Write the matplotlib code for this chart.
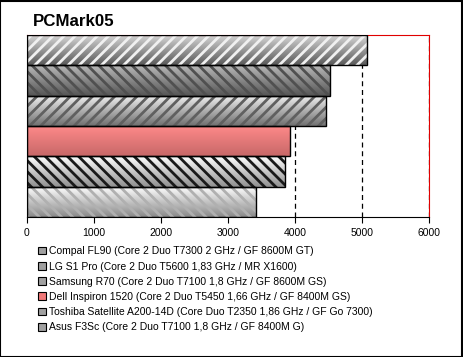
import numpy as np
import matplotlib.pyplot as plt
from matplotlib.patches import Rectangle
from matplotlib.colors import LinearSegmentedColormap

plt.rcParams['font.family'] = ['Liberation Sans', 'DejaVu Sans']
plt.rcParams['hatch.linewidth'] = 2.0

labels = [
    'Compal FL90 (Core 2 Duo T7300 2 GHz / GF 8600M GT)',
    'LG S1 Pro (Core 2 Duo T5600 1,83 GHz / MR X1600)',
    'Samsung R70 (Core 2 Duo T7100 1,8 GHz / GF 8600M GS)',
    'Dell Inspiron 1520 (Core 2 Duo T5450 1,66 GHz / GF 8400M GS)',
    'Toshiba Satellite A200-14D (Core Duo T2350 1,86 GHz / GF Go 7300)',
    'Asus F3Sc (Core 2 Duo T7100 1,8 GHz / GF 8400M G)',
]
scores = [5075, 4520, 4460, 3925, 3850, 3415]

# top colour, bottom colour, hatch, hatch colour
styles = [
    ('#d8d8d8', '#5a5a5a', '///', '#f0f0f0'),
    ('#b8b8b8', '#555555', '\\\\\\', '#505050'),
    ('#f0f0f0', '#707070', '///', '#606060'),
    ('#ff8a8a', '#c86868', None, None),
    ('#ffffff', '#909090', '\\\\\\', '#1a1a1a'),
    ('#ffffff', '#8a8a8a', '\\\\\\', '#b0b0b0'),
]

fig = plt.figure(figsize=(4.63, 3.57), dpi=100)
ax = fig.add_axes([27 / 463, 1 - 217 / 357, 402 / 463, 182 / 357])

for i, (v, st) in enumerate(zip(scores, styles)):
    top, bot, hatch, hc = st
    cmap = LinearSegmentedColormap.from_list('g', [top, bot])
    grad = np.linspace(0, 1, 64).reshape(-1, 1)
    rect = Rectangle((0, i - 0.5), v, 1.0, transform=ax.transData,
                     facecolor='none', edgecolor='none')
    ax.add_patch(rect)
    im = ax.imshow(grad, cmap=cmap, aspect='auto',
                   extent=(0, v, i + 0.5, i - 0.5), origin='upper',
                   zorder=2, interpolation='bilinear')
    im.set_clip_path(rect)
    if hatch:
        ax.barh(i, v, height=1.0, left=0, facecolor='none', edgecolor=hc,
                hatch=hatch, linewidth=0, zorder=3)
    ax.barh(i, v, height=1.0, left=0, facecolor='none', edgecolor='black',
            linewidth=1.0, zorder=4)

ax.set_xlim(0, 6000)
ax.set_ylim(len(scores) - 0.5, -0.5)
ax.set_xticks(range(0, 6001, 1000))
ax.set_yticks([])
ax.tick_params(axis='x', labelsize=7.5, length=4, direction='out', pad=4)
ax.xaxis.grid(True, linestyle=(0, (4, 3)), color='black', linewidth=0.9)
ax.set_axisbelow(True)
for s in ('top', 'right'):
    ax.spines[s].set_color('#e00000')
for s in ('left', 'bottom'):
    ax.spines[s].set_color('black')

fig.text(33 / 463, 1 - 22 / 357, 'PCMark05', fontsize=12.2, fontweight='bold',
         va='center', ha='left')

handles = []
for st in styles:
    top, bot, hatch, hc = st
    fc = bot if hatch is None else '#a0a0a0'
    handles.append(Rectangle((0, 0), 1, 1, facecolor=fc, edgecolor='black',
                             linewidth=0.8))
handles[3].set_facecolor('#f07878')
leg = fig.legend(handles, labels, loc='upper left',
                 bbox_to_anchor=(31 / 463, 1 - 239 / 357), frameon=False,
                 fontsize=7.5, handlelength=0.75, handleheight=0.75,
                 handletextpad=0.3, labelspacing=0.5, borderpad=0.2)

fig.add_artist(Rectangle((0.001, 0.001), 0.997, 0.997, transform=fig.transFigure,
                         facecolor='none', edgecolor='black', linewidth=1.5))

fig.savefig('out.png', dpi=100)
